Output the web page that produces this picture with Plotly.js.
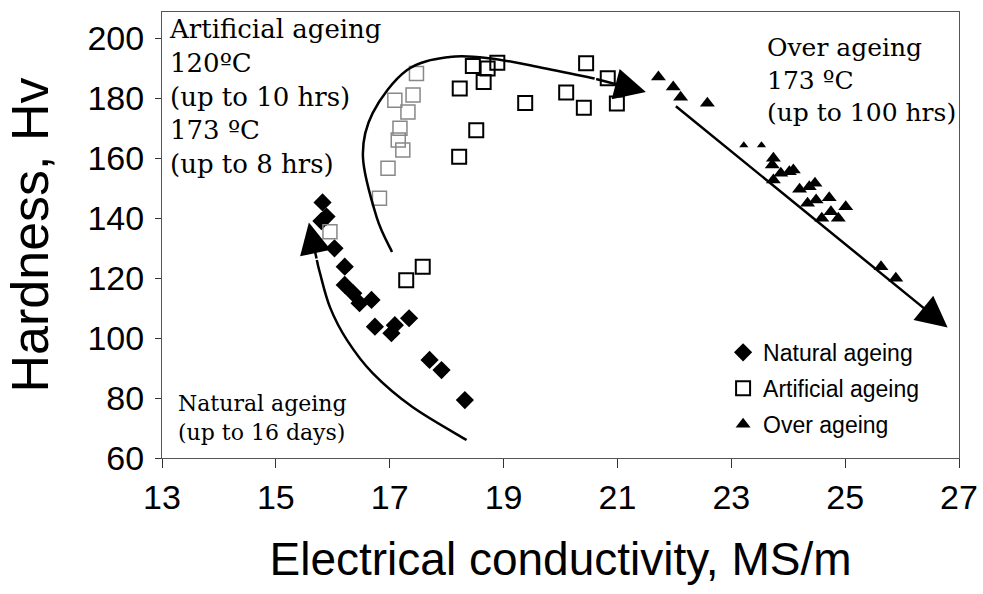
<!DOCTYPE html>
<html>
<head>
<meta charset="utf-8">
<script src="https://cdn.plot.ly/plotly-3.0.1.min.js"></script>
<style>html,body{margin:0;padding:0;background:#fff;}#chart{width:983px;height:594px;}</style>
</head>
<body>
<div id="chart"></div>
<script>
// ---- data ----
const naturalX = [15.82, 15.89, 15.80, 16.03, 16.21, 16.21, 16.36, 16.47, 16.68, 16.74, 17.03, 17.09, 17.34, 17.70, 17.91, 18.32];
const naturalY = [145.2, 140.5, 139.0, 129.9, 123.8, 117.7, 114.9, 111.6, 112.7, 103.8, 101.6, 104.3, 106.6, 92.7, 89.3, 79.3];

const artificial173X = [18.46, 18.72, 18.89, 18.65, 18.23, 18.52, 18.22, 19.38, 20.10, 20.45, 20.41, 20.83, 20.99, 17.29, 17.58];
const artificial173Y = [190.7, 189.9, 191.8, 185.4, 183.2, 169.3, 160.4, 178.4, 181.9, 191.6, 176.8, 186.6, 178.2, 119.3, 123.8];

const artificial120X = [17.47, 17.41, 17.09, 17.32, 17.18, 17.15, 17.23, 16.97, 16.82, 15.95];
const artificial120Y = [188.2, 181.0, 179.3, 175.4, 169.9, 166.0, 162.7, 156.6, 146.6, 135.4];

const overX = [21.72, 21.98, 22.11, 22.58, 23.74, 23.72, 23.87, 24.02, 24.09, 23.74, 24.20, 24.37, 24.47, 24.34, 24.49, 24.72, 25.01, 24.75, 24.88, 24.59, 25.63, 25.89];
const overY = [187.0, 183.7, 180.3, 178.3, 159.9, 157.7, 154.9, 155.4, 156.0, 152.7, 149.6, 150.4, 151.6, 144.9, 146.0, 146.8, 143.8, 142.1, 139.9, 139.9, 123.8, 119.9];
const overSmallX = [23.22, 23.53];
const overSmallY = [164.3, 164.3];

const xTicks = [13, 15, 17, 19, 21, 23, 25, 27];
const yTicks = [60, 80, 100, 120, 140, 160, 180, 200];

// guide arrows (curve points then tail -> tip)
const naturalCurveX = [18.35, 17.40, 16.70, 16.25, 15.95, 15.77, 15.72];
const naturalCurveY = [66.0, 77.0, 88.3, 99.3, 110.3, 122.0, 126.0];
const naturalTip = [15.58, 138.5];
const artCurveX = [17.04, 16.77, 16.53, 16.70, 17.30, 18.05, 18.75, 19.63, 20.60];
const artCurveY = [128.7, 140.3, 160.3, 175.0, 189.3, 193.7, 193.3, 190.3, 186.5];
const artTip = [21.50, 182.0];
const overTail = [22.0, 177.7];
const overTip = [26.8, 103.5];

function catmull(xs, ys) {
  let p = 'M' + xs[0] + ',' + ys[0];
  for (let i = 0; i < xs.length - 1; i++) {
    const x0 = xs[Math.max(i - 1, 0)], y0 = ys[Math.max(i - 1, 0)];
    const x1 = xs[i], y1 = ys[i], x2 = xs[i + 1], y2 = ys[i + 1];
    const x3 = xs[Math.min(i + 2, xs.length - 1)], y3 = ys[Math.min(i + 2, ys.length - 1)];
    const c1x = x1 + (x2 - x0) / 6, c1y = y1 + (y2 - y0) / 6;
    const c2x = x2 - (x3 - x1) / 6, c2y = y2 - (y3 - y1) / 6;
    p += ' C' + c1x + ',' + c1y + ' ' + c2x + ',' + c2y + ' ' + x2 + ',' + y2;
  }
  return p;
}

const sans = 'Liberation Sans, Arial, sans-serif';
const serif = 'DejaVu Serif, Liberation Serif, serif';

const traces = [
  {x: naturalX, y: naturalY, type: 'scatter', mode: 'markers', name: 'Natural ageing', legendgroup: 'a',
   marker: {symbol: 'diamond', size: 14, color: '#000'}},
  {x: artificial173X, y: artificial173Y, type: 'scatter', mode: 'markers', name: 'Artificial ageing', legendgroup: 'b',
   marker: {symbol: 'square-open', size: 14, color: '#000', line: {width: 2, color: '#000'}}},
  {x: artificial120X, y: artificial120Y, type: 'scatter', mode: 'markers', name: 'Artificial ageing 120', legendgroup: 'b', showlegend: false,
   marker: {symbol: 'square-open', size: 14, color: '#888', line: {width: 1.5, color: '#888'}}},
  {x: overX, y: overY, type: 'scatter', mode: 'markers', name: 'Over ageing', legendgroup: 'c',
   marker: {symbol: 'triangle-up', size: 13, color: '#000'}},
  {x: overSmallX, y: overSmallY, type: 'scatter', mode: 'markers', name: 'Over ageing small', legendgroup: 'c', showlegend: false,
   marker: {symbol: 'triangle-up', size: 8, color: '#000'}}
];

const arrowStyle = {showarrow: true, text: '', arrowhead: 2, arrowsize: 2.5, arrowwidth: 2.5, arrowcolor: '#000',
  xref: 'x', yref: 'y', axref: 'x', ayref: 'y'};

const layout = {
  width: 983, height: 594,
  margin: {l: 162, r: 24, t: 12, b: 136},
  paper_bgcolor: '#fff', plot_bgcolor: '#fff',
  showlegend: true,
  legend: {x: 0.704, y: 0.285, xanchor: 'left', yanchor: 'top', bgcolor: 'rgba(0,0,0,0)',
    font: {family: sans, size: 23, color: '#000'}, tracegroupgap: 3, itemwidth: 30},
  xaxis: {range: [13, 27], tickvals: xTicks, ticktext: xTicks.map(String), showgrid: false, zeroline: false,
    showline: true, mirror: true, linecolor: '#555', linewidth: 1, ticks: 'outside', ticklen: 9, tickcolor: '#333',
    tickfont: {family: sans, size: 34, color: '#000'}, ticklabelstandoff: 0,
    title: {text: 'Electrical conductivity, MS/m', font: {family: sans, size: 46, color: '#000'}, standoff: 28}},
  yaxis: {range: [60, 208.7], tickvals: yTicks, ticktext: yTicks.map(String), showgrid: false, zeroline: false,
    showline: true, mirror: true, linecolor: '#555', linewidth: 1, ticks: 'outside', ticklen: 6, tickcolor: '#333',
    tickfont: {family: sans, size: 34, color: '#000'}, ticklabelstandoff: 4,
    title: {text: 'Hardness, Hv', font: {family: sans, size: 52, color: '#000'}, standoff: 22}},
  shapes: [
    {type: 'path', xref: 'x', yref: 'y', path: catmull(naturalCurveX, naturalCurveY), line: {color: '#000', width: 2.5}},
    {type: 'path', xref: 'x', yref: 'y', path: catmull(artCurveX, artCurveY), line: {color: '#000', width: 2.5}}
  ],
  annotations: [
    Object.assign({}, arrowStyle, {x: naturalTip[0], y: naturalTip[1], ax: naturalCurveX[naturalCurveX.length - 1], ay: naturalCurveY[naturalCurveY.length - 1]}),
    Object.assign({}, arrowStyle, {x: artTip[0], y: artTip[1], ax: artCurveX[artCurveX.length - 1], ay: artCurveY[artCurveY.length - 1]}),
    Object.assign({}, arrowStyle, {x: overTip[0], y: overTip[1], ax: overTail[0], ay: overTail[1]}),
    {xref: 'paper', yref: 'paper', x: (167 - 162) / 797, y: (458 - 12) / 446, xanchor: 'left', yanchor: 'top', showarrow: false, align: 'left',
     text: 'Artificial ageing<br>120ºC<br>(up to 10 hrs)<br>173 ºC<br>(up to 8 hrs)', font: {family: serif, size: 26, color: '#000'}},
    {xref: 'paper', yref: 'paper', x: (765 - 162) / 797, y: (458 - 31) / 446, xanchor: 'left', yanchor: 'top', showarrow: false, align: 'left',
     text: 'Over ageing<br>173 ºC<br>(up to 100 hrs)', font: {family: serif, size: 25, color: '#000'}},
    {xref: 'paper', yref: 'paper', x: (176 - 162) / 797, y: (458 - 389) / 446, xanchor: 'left', yanchor: 'top', showarrow: false, align: 'left',
     text: 'Natural ageing<br>(up to 16 days)', font: {family: serif, size: 22, color: '#000'}}
  ]
};

Plotly.newPlot('chart', traces, layout, {displayModeBar: false, staticPlot: true});
</script>
</body>
</html>
